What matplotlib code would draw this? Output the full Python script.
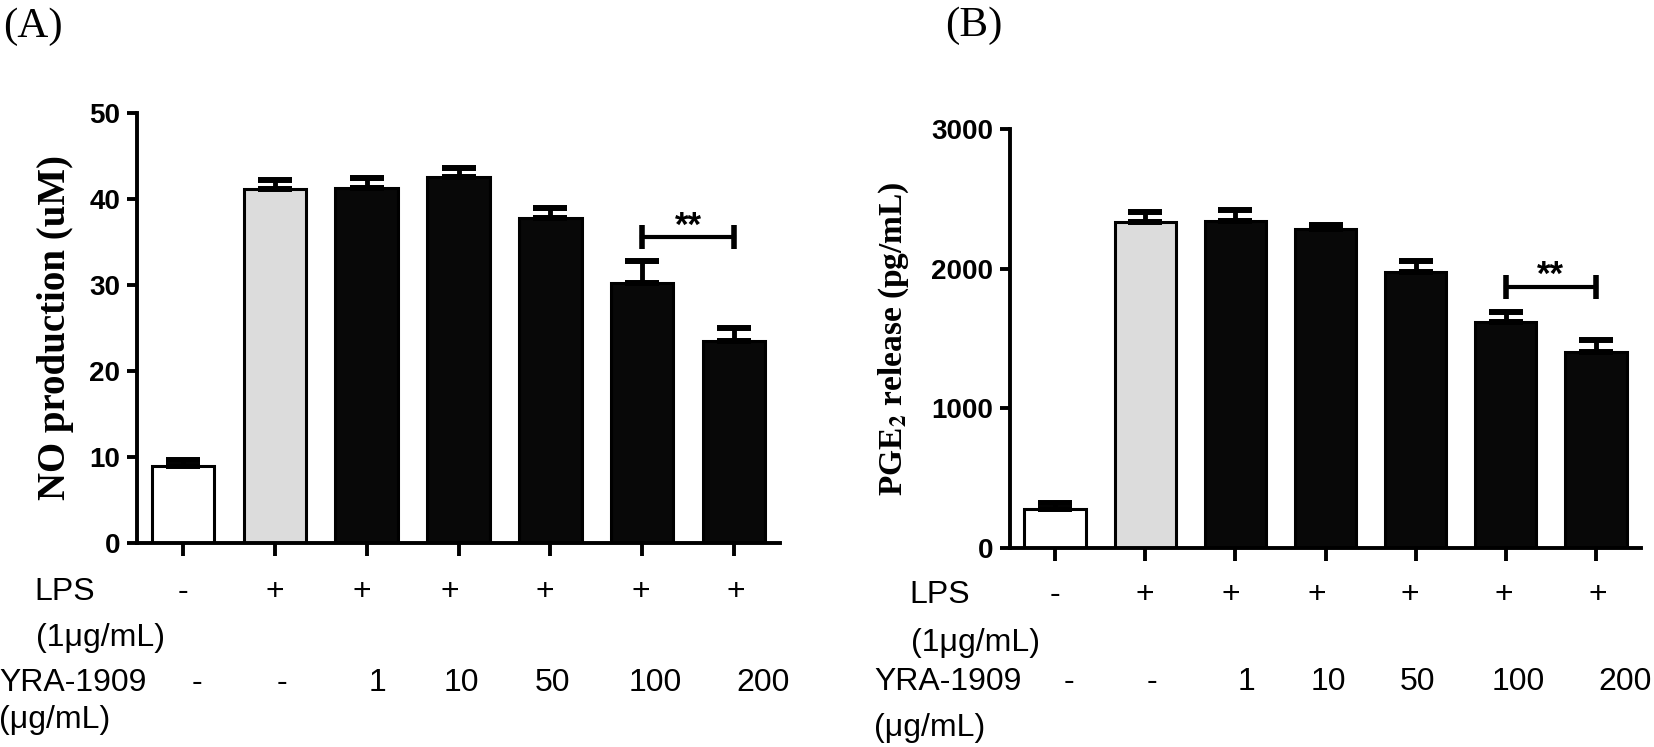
import numpy as np
import matplotlib
matplotlib.use("Agg")
import matplotlib.pyplot as plt
import matplotlib.transforms as mtransforms

# group labels under the bars
lps_marks = ["-", "+", "+", "+", "+", "+", "+"]
yra_marks = ["-", "-", "1", "10", "50", "100", "200"]

# (A) NO production, mean and upper error (uM)
no_mean = [8.9, 41.2, 41.3, 42.6, 37.8, 30.2, 23.5]
no_err = [0.7, 1.0, 1.1, 1.0, 1.2, 2.6, 1.5]

# (B) PGE2 release, mean and upper error (pg/mL)
pge_mean = [280, 2337, 2344, 2287, 1978, 1620, 1405]
pge_err = [43, 72, 79, 25, 79, 72, 86]

bar_colors = ["white", "#dcdcdc", "#080808", "#080808", "#080808", "#080808", "#080808"]

plt.rcParams["font.family"] = ["Liberation Sans", "DejaVu Sans"]
plt.rcParams["mathtext.fontset"] = "stix"

W, H = 1654, 747
fig = plt.figure(figsize=(W / 100, H / 100), dpi=100)

# axes boxes in pixels: left, right, bottom, top
ax_a = fig.add_axes([137 / W, 1 - 543 / H, (780 - 137) / W, (543 - 113) / H])
ax_b = fig.add_axes([1010 / W, 1 - 548 / H, (1641 - 1010) / W, (548 - 129) / H])

lps_dx = [0, 0, -0.05, -0.1, -0.06, -0.02, 0.02]
yra_dx = [0.15, 0.08, 0.12, 0.03, 0.02, 0.14, 0.32]


def draw(ax, mean, err, ymax, yticks, sig_y, rows_y, name_x):
    x = np.arange(len(mean))
    ax.bar(x, mean, width=0.68, color=bar_colors, edgecolor="black",
           linewidth=2.2, zorder=2)
    ax.errorbar(x, mean, yerr=[np.zeros(len(err)), err], fmt="none",
                ecolor="black", elinewidth=3.5, capsize=12, capthick=4.3,
                zorder=3)
    ax.set_xlim(-0.5, 6.5)
    ax.set_ylim(0, ymax)
    ax.set_yticks(yticks)
    ax.set_xticks(x)
    ax.set_xticklabels([])
    for s in ["top", "right"]:
        ax.spines[s].set_visible(False)
    for s in ["left", "bottom"]:
        ax.spines[s].set_linewidth(2.8)
    ax.tick_params(axis="x", direction="out", length=9, width=2.8)
    ax.tick_params(axis="y", direction="out", length=7, width=2.8,
                   labelsize=20, pad=5)
    for lbl in ax.get_yticklabels():
        lbl.set_fontweight("bold")

    # significance bracket between the last two bars
    ax.plot([5, 6], [sig_y, sig_y], color="black", lw=3, zorder=4)
    ax.plot([5, 6], [sig_y, sig_y], ls="none", marker="|", ms=17, mew=4,
            color="black", zorder=4)
    ax.annotate("**", xy=(5.5, sig_y), xytext=(0, 1), textcoords="offset points",
                ha="center", va="baseline", fontsize=25, fontweight="bold")

    trans = mtransforms.blended_transform_factory(ax.transData, fig.transFigure)
    for i in range(len(mean)):
        ax.text(i + lps_dx[i], 1 - rows_y[0] / H, lps_marks[i], transform=trans,
                ha="center", va="center", fontsize=23)
        ax.text(i + yra_dx[i], 1 - rows_y[2] / H, yra_marks[i], transform=trans,
                ha="center", va="center", fontsize=23)

    fig.text((name_x + 35) / W, 1 - rows_y[0] / H, "LPS", ha="left", va="center", fontsize=23)
    fig.text((name_x + 37) / W, 1 - rows_y[1] / H, "(1\u03bcg/mL)", ha="left", va="center", fontsize=23)
    fig.text(name_x / W, 1 - rows_y[2] / H, "YRA-1909", ha="left", va="center", fontsize=23)
    fig.text(name_x / W, 1 - rows_y[3] / H, "(\u03bcg/mL)", ha="left", va="center", fontsize=23)


draw(ax_a, no_mean, no_err, 50, [0, 10, 20, 30, 40, 50], 35.6,
     [592, 638, 683, 720], -1)
draw(ax_b, pge_mean, pge_err, 3000, [0, 1000, 2000, 3000], 1871,
     [595, 643, 682, 728], 874)

fig.text(56 / W, 1 - 328 / H, "NO production (uM)", rotation=90, ha="center",
         va="center", family="Liberation Serif", weight="bold", fontsize=28)
fig.text(894 / W, 1 - 339 / H, r"PGE$_\mathbf{2}$ release (pg/mL)", rotation=90,
         ha="center", va="center", family="Liberation Serif", weight="bold",
         fontsize=24)

fig.text(3 / W, 1 - 37 / H, "(A)", va="baseline", ha="left",
         family="Liberation Serif", fontsize=31)
fig.text(945 / W, 1 - 36 / H, "(B)", va="baseline", ha="left",
         family="Liberation Serif", fontsize=31)

fig.savefig("out.png", dpi=100)
